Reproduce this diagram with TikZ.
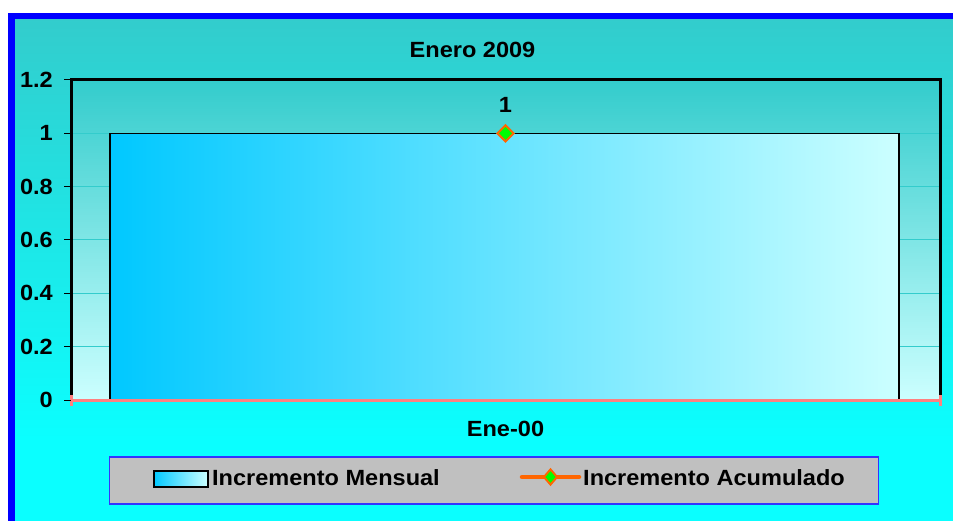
\documentclass[tikz,border=0pt]{standalone}
\usepackage{fontspec}
\setmainfont{Liberation Sans}[FakeStretch=1.07]
\usetikzlibrary{shapes.geometric,positioning}
\definecolor{chartbg}{HTML}{33CCCC}
\definecolor{chartbot}{HTML}{0AFFFF}
\definecolor{plotlow}{HTML}{CCFFFF}
\definecolor{barleft}{HTML}{00C8FF}
\definecolor{axisred}{HTML}{FF8080}
\definecolor{mkorange}{HTML}{FF6600}
\definecolor{mkgreen}{HTML}{00FF00}
\definecolor{legendgray}{HTML}{C0C0C0}
\begin{document}
\begin{tikzpicture}[x=1pt,y=-1pt,
	lbl/.style={font=\fontsize{22}{26}\selectfont\bfseries, inner sep=0pt},
	dmark/.style={diamond, draw=mkorange, fill=mkgreen, line width=2pt,
		minimum width=17pt, minimum height=17pt, inner sep=0pt}]
		% page
		\useasboundingbox (0,0) rectangle (953,521);
		\fill[white] (0,0) rectangle (953,521);
		\clip (0,0) rectangle (953,521);
		
		% chart area
		\fill[chartbot] (11.5,16) rectangle (970,540);
		\shade[top color=chartbg, bottom color=chartbot] (11.5,16) rectangle (970,440);
		\draw[blue, line width=6.5pt] (11.5,16) rectangle (970,540);
		
		% plot area
		\shade[top color=chartbg, bottom color=plotlow] (71,80) rectangle (940,400);
		\foreach \i in {1,...,5}
		\draw[chartbg, line width=1pt] (71,{400-\i*53.333}) -- (940,{400-\i*53.333});
		
		% bar
		\shade[left color=barleft, right color=plotlow, draw=black, line width=1.5pt]
		(110,133.33) rectangle (899,400);
		
		% Axes
		\draw[line width=3pt] (71,400) -- (71,80) -- (940,80) -- (940,400);
		\draw[axisred, line width=3pt] (71,400) -- (940,400);
		\draw[axisred, line width=3pt] (71,395) -- (71,406);
		\draw[axisred, line width=3pt] (940,395) -- (940,406);
		\foreach \i/\t in {0/0,1/0.2,2/0.4,3/0.6,4/0.8,5/1,6/1.2}{
			\draw[line width=1pt] (64,{400-\i*53.333}) -- (71,{400-\i*53.333});
			\node[lbl, anchor=east] (y\i) at (53,{400-\i*53.333}) {\t};
		}
		
		% data point
		\node[dmark] (pt) at (505.5,133.33) {};
		\node[lbl, above=11pt of pt] (val) {1};
		
		% texts
		\node[lbl] (title) at (472.5,50) {Enero 2009};
		\node[lbl] (cat) at (505.5,429) {Ene-00};
		
		% legend
		\node[draw=blue!80, fill=legendgray, line width=1.5pt, minimum width=769pt,
		minimum height=47pt, inner sep=0pt] (leg) at (494,480.5) {};
		\shade[left color=barleft, right color=plotlow, draw=black, line width=2pt]
		(153.5,471) rectangle (208,487);
		\node[lbl, anchor=west] (legA) at (212,477.5) {Incremento Mensual};
		\coordinate (la) at (522,477);
		\coordinate (lb) at (579,477);
		\draw[mkorange, line width=4.5pt, line cap=round] (la) -- (lb);
		\node[dmark, minimum width=14pt, minimum height=16pt] (lm) at (550.5,477) {};
		\node[lbl, anchor=west] (legB) at (583,477.5) {Incremento Acumulado};
	\end{tikzpicture}
\end{document}
